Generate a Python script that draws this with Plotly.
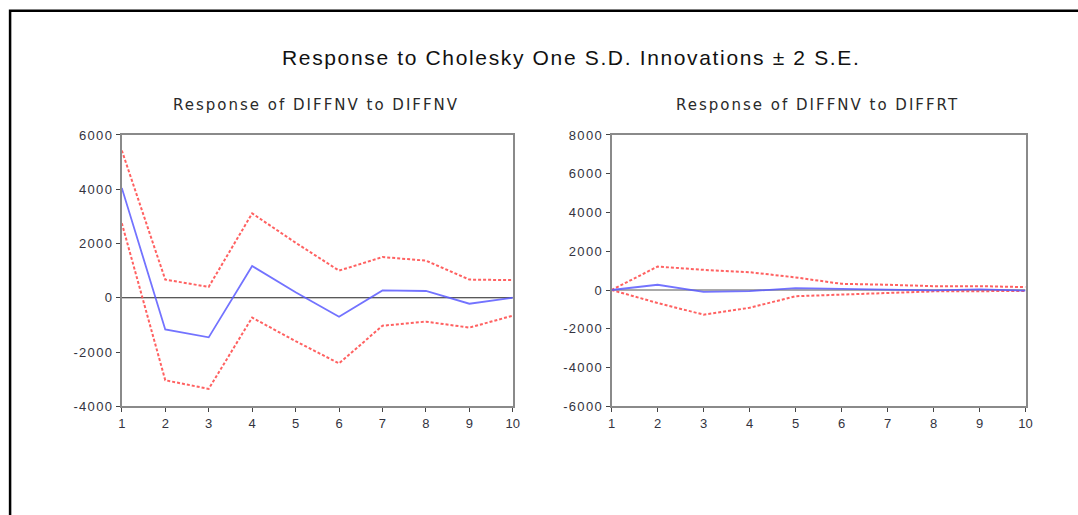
import plotly.graph_objects as go

W, H = 1078, 515

periods = list(range(1, 11))

# Response of DIFFNV to DIFFNV
nv_resp = [4050, -1170, -1460, 1170, 200, -700, 270, 250, -220, 0]
nv_upper = [5430, 670, 400, 3110, 2030, 1000, 1500, 1370, 670, 650]
nv_lower = [2750, -3040, -3360, -730, -1600, -2420, -1030, -880, -1100, -660]

# Response of DIFFNV to DIFFRT
rt_resp = [0, 270, -100, -60, 100, 50, 0, -20, 30, -30]
rt_upper = [0, 1210, 1040, 920, 650, 320, 270, 200, 200, 150]
rt_lower = [0, -670, -1270, -920, -320, -240, -150, -70, -60, -50]

main_title = "Response to Cholesky One S.D. Innovations \u00b1 2 S.E."
sub_titles = ["Response of DIFFNV to DIFFNV", "Response of DIFFNV to DIFFRT"]
y1_ticks = [-4000, -2000, 0, 2000, 4000, 6000]
y2_ticks = [-6000, -4000, -2000, 0, 2000, 4000, 6000, 8000]

BLUE = "rgba(90,90,255,0.85)"
RED = "rgba(255,80,80,0.9)"

fig = go.Figure()

def add_panel(resp, up, lo, xa, ya, zcol):
    fig.add_trace(go.Scatter(x=periods, y=[0]*len(periods), mode="lines",
                             line=dict(color=zcol, width=1.2), xaxis=xa, yaxis=ya,
                             showlegend=False, hoverinfo="skip"))
    for s in (up, lo):
        fig.add_trace(go.Scatter(x=periods, y=s, mode="lines",
                                 line=dict(color=RED, width=2, dash="3px,2px"),
                                 xaxis=xa, yaxis=ya, showlegend=False))
    fig.add_trace(go.Scatter(x=periods, y=resp, mode="lines",
                             line=dict(color=BLUE, width=1.8),
                             xaxis=xa, yaxis=ya, showlegend=False))

add_panel(nv_resp, nv_upper, nv_lower, "x", "y", "#222")
add_panel(rt_resp, rt_upper, rt_lower, "x2", "y2", "#555")

# pixel -> paper helpers (with a small empirical correction for the capture)
def px_x(p):
    return ((p - 1.9) / 0.9923) / W

def px_y(p):
    return 1 - ((p - 6.2) / 0.977) / H

def spaced(t, ls):
    return '<span style="letter-spacing:%spx">%s</span>' % (ls, t)

axis_common = dict(showline=True, linecolor="#8a8a8a", linewidth=2, mirror=True,
                   ticks="outside", ticklen=4, tickcolor="#444", tickwidth=1,
                   showgrid=False, zeroline=False,
                   tickfont=dict(family="Liberation Sans, Arial", size=13, color="#333340"))

fig.update_layout(
    width=W, height=H,
    margin=dict(l=0, r=0, t=0, b=0),
    paper_bgcolor="white", plot_bgcolor="white",
    xaxis=dict(domain=[px_x(120), px_x(512)], range=[1, 10], tickvals=periods,
               ticktext=[str(p) for p in periods], anchor="y", **axis_common),
    yaxis=dict(domain=[px_y(408), px_y(135)], range=[-4000, 6000], tickvals=y1_ticks,
               ticktext=[spaced(str(v), 1.3) for v in y1_ticks], anchor="x", **axis_common),
    xaxis2=dict(domain=[px_x(611), px_x(1026)], range=[1, 10], tickvals=periods,
                ticktext=[str(p) for p in periods], anchor="y2", **axis_common),
    yaxis2=dict(domain=[px_y(408), px_y(135)], range=[-6000, 8000], tickvals=y2_ticks,
                ticktext=[spaced(str(v), 1.3) for v in y2_ticks], anchor="x2", **axis_common),
    showlegend=False,
)

fig.add_shape(type="rect", xref="paper", yref="paper",
              x0=px_x(8), x1=1.02, y0=-0.02, y1=px_y(10),
              line=dict(color="black", width=2.5), fillcolor="rgba(0,0,0,0)")

fig.add_annotation(text=spaced(main_title, 1.65), xref="paper", yref="paper",
                   x=px_x(570), y=px_y(57), xanchor="center", yanchor="middle",
                   showarrow=False,
                   font=dict(family="Liberation Sans, Arial", size=21, color="#111"))
for cx, t in zip([315, 817], sub_titles):
    fig.add_annotation(text=spaced(t, 2.0), xref="paper", yref="paper",
                       x=px_x(cx), y=px_y(105), xanchor="center", yanchor="middle",
                       showarrow=False,
                       font=dict(family="DejaVu Sans", size=15, color="#2a2a2a"))

fig.write_html("out.html")
